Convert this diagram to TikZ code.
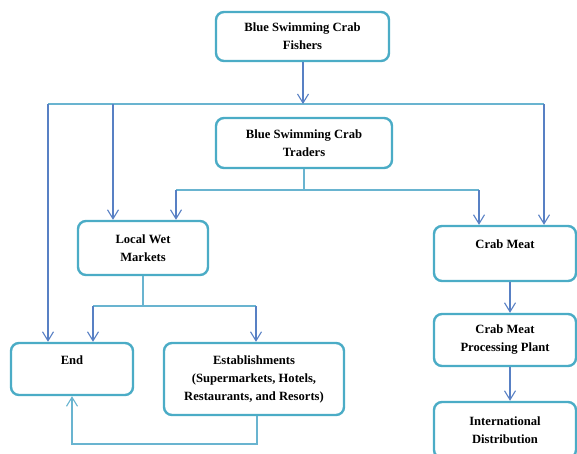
\documentclass[tikz,border=0pt]{standalone}
\usepackage{fontspec}
\setmainfont{Liberation Serif}
\usetikzlibrary{arrows.meta}
\definecolor{boxc}{RGB}{75,172,198}
\definecolor{busc}{RGB}{105,180,208}
\definecolor{arrc}{RGB}{88,128,196}
\tikzset{
  stage/.style={draw=boxc, line width=2.4pt, rounded corners=8pt, fill=white,
    inner sep=0pt, align=center, font=\bfseries\fontsize{12.6pt}{18pt}\selectfont},
  bus/.style={draw=busc, line width=1.1pt},
  arr/.style={draw=arrc, line width=1.1pt, -{Straight Barb[length=9pt,width=11pt,line width=1.1pt]}},
  retarr/.style={draw=busc, line width=1.1pt, -{Straight Barb[length=9pt,width=11pt,line width=1.1pt]}}
}
\begin{document}
\begin{tikzpicture}[x=1pt,y=-1pt]
\useasboundingbox (0,0) rectangle (577,453);
\clip (0,0) rectangle (577,453);
% nodes
\node[stage, minimum width=173pt, minimum height=49pt] (fish) at (302.5,36.5) {Blue Swimming Crab\\Fishers};
\node[stage, minimum width=176pt, minimum height=50pt] (trad) at (304,143) {Blue Swimming Crab\\Traders};
\node[stage, minimum width=130pt, minimum height=54pt] (local) at (143,248) {Local Wet\\Markets};
\node[stage, minimum width=142pt, minimum height=55pt] (crab) at (505,253.5) {Crab Meat\\\mbox{}};
\node[stage, minimum width=122pt, minimum height=52pt] (end) at (72,369) {End\\\mbox{}};
\node[stage, minimum width=180pt, minimum height=72pt] (est) at (254,379) {Establishments\\(Supermarkets, Hotels,\\Restaurants, and Resorts)};
\node[stage, minimum width=142pt, minimum height=52pt] (proc) at (505,340) {Crab Meat\\Processing Plant};
\node[stage, minimum width=142pt, minimum height=56pt] (intl) at (505,430) {International\\Distribution};
% bus coordinates
\coordinate (fb) at (303,104);
\coordinate (fbL) at (48,104);
\coordinate (fbM) at (113,104);
\coordinate (fbR) at (544,104);
\coordinate (tb) at (304,190);
\coordinate (tbL) at (176,190);
\coordinate (tbR) at (479,190);
\coordinate (lb) at (143,306);
\coordinate (lbL) at (93,306);
\coordinate (lbR) at (256,306);
\coordinate (rb) at (257,444);
\coordinate (rbL) at (72,444);
\coordinate (rc) at (510,0);
% fishers
\draw[bus] (fbL) -- (fbR);
\draw[arr] (fish.south -| fb) -- (fb);
\draw[arr] (fbL) -- (end.north -| fbL);
\draw[arr] (fbM) -- (local.north -| fbM);
\draw[arr] (fbR) -- (crab.north -| fbR);
% traders
\draw[bus] (trad.south -| tb) -- (tb);
\draw[bus] (tbL) -- (tbR);
\draw[arr] (tbL) -- (local.north -| tbL);
\draw[arr] (tbR) -- (crab.north -| tbR);
% local wet markets
\draw[bus] (local.south -| lb) -- (lb);
\draw[bus] (lbL) -- (lbR);
\draw[arr] (lbL) -- (end.north -| lbL);
\draw[arr] (lbR) -- (est.north -| lbR);
% establishments back to end
\draw[retarr] (est.south -| rb) -- (rb) -- (rbL) -- (end.south -| rbL);
% crab meat chain
\draw[arr] (crab.south -| rc) -- (proc.north -| rc);
\draw[arr] (proc.south -| rc) -- (intl.north -| rc);
\end{tikzpicture}
\end{document}
